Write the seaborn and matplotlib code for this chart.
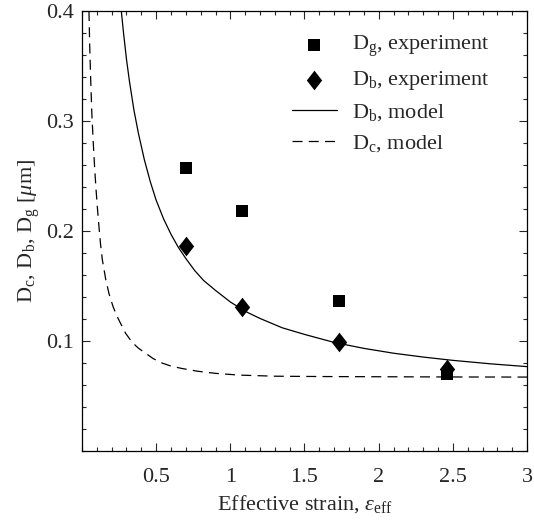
import matplotlib
matplotlib.use('Agg')
import matplotlib.pyplot as plt
import seaborn as sns
from matplotlib.ticker import MultipleLocator

# experiment points
strain_exp = [0.70, 1.08, 1.73, 2.46]
dg_exp = [0.257, 0.218, 0.136, 0.070]
db_exp = [0.186, 0.131, 0.099, 0.075]

# model curves
strain_db_model = [0.265, 0.28, 0.30, 0.32, 0.35, 0.38, 0.42, 0.46, 0.50, 0.55,
                   0.60, 0.65, 0.70, 0.76, 0.82, 0.90, 1.0, 1.1, 1.2, 1.35,
                   1.5, 1.7, 1.9, 2.1, 2.3, 2.5, 2.75, 3.0]
db_model = [0.400, 0.380, 0.356, 0.336, 0.310, 0.289, 0.265, 0.245, 0.228, 0.211,
            0.197, 0.185, 0.175, 0.164, 0.155, 0.146, 0.1355, 0.127, 0.1205, 0.112,
            0.106, 0.0987, 0.0933, 0.0889, 0.0854, 0.0824, 0.0793, 0.0767]
strain_dc_model = [0.047, 0.052, 0.058, 0.066, 0.076, 0.085, 0.094, 0.105, 0.115,
                   0.125, 0.137, 0.16, 0.182, 0.21, 0.238, 0.26, 0.294, 0.337,
                   0.38, 0.427, 0.48, 0.539, 0.60, 0.674, 0.78, 0.899, 1.06,
                   1.30, 1.6, 2.0, 2.5, 3.0]
dc_model = [0.400, 0.368, 0.340, 0.308, 0.280, 0.258, 0.239, 0.219, 0.203,
            0.188, 0.174, 0.156, 0.143, 0.131, 0.122, 0.116, 0.107, 0.099,
            0.0935, 0.089, 0.084, 0.080, 0.0772, 0.075, 0.0725, 0.0706, 0.069,
            0.068, 0.0677, 0.0675, 0.0673, 0.0672]

xticks = [0.5, 1, 1.5, 2, 2.5, 3]
xticklabels = ['0.5', '1', '1.5', '2', '2.5', '3']
yticks = [0.1, 0.2, 0.3, 0.4]
yticklabels = ['0.1', '0.2', '0.3', '0.4']

sns.set_style('ticks')
plt.rcParams['font.family'] = ['Liberation Serif', 'DejaVu Serif']
plt.rcParams['mathtext.fontset'] = 'custom'
plt.rcParams['mathtext.rm'] = 'Liberation Serif'
plt.rcParams['mathtext.it'] = 'Liberation Serif:italic'
plt.rcParams['mathtext.bf'] = 'Liberation Serif:bold'

fs = 16
fig = plt.figure(figsize=(5.34, 5.27), dpi=100)
ax = fig.add_axes([82 / 534, 76 / 527, 445 / 534, 440 / 527])

diamond = [(0, 1), (0.78, 0), (0, -1), (-0.78, 0), (0, 1)]

sns.scatterplot(x=strain_exp, y=dg_exp, marker='s', s=70, color='black',
                linewidth=0, label=r'D$_\mathrm{g}$, experiment', ax=ax, zorder=3)
sns.scatterplot(x=strain_exp, y=db_exp, marker=diamond, s=200, color='black',
                linewidth=0, label=r'D$_\mathrm{b}$, experiment', ax=ax, zorder=3)
sns.lineplot(x=strain_db_model, y=db_model, color='black', linewidth=0.9,
             sort=False, estimator=None, label=r'D$_\mathrm{b}$, model', ax=ax)
sns.lineplot(x=strain_dc_model, y=dc_model, color='black', linewidth=0.9,
             sort=False, estimator=None, label=r'D$_\mathrm{c}$, model', ax=ax)
ax.lines[-1].set_dashes((8, 5))

ax.set_xlim(0, 3)
ax.set_ylim(0, 0.4)
ax.set_xticks(xticks)
ax.set_xticklabels(xticklabels)
ax.set_yticks(yticks)
ax.set_yticklabels(yticklabels)
ax.xaxis.set_minor_locator(MultipleLocator(0.1))
ax.yaxis.set_minor_locator(MultipleLocator(0.02))
ax.tick_params(which='both', direction='in', top=True, right=True, labelsize=fs, width=0.8)
ax.tick_params(which='major', length=6)
ax.tick_params(which='minor', length=3)
ax.tick_params(axis='x', which='major', pad=12.5)
ax.tick_params(axis='y', which='major', pad=6)
for s in ax.spines.values():
    s.set_linewidth(0.9)
    s.set_color('black')

ax.set_xlabel(r'Effective strain, $\varepsilon_\mathrm{eff}$', fontsize=fs, labelpad=4)
ax.set_ylabel(r'D$_\mathrm{c}$, D$_\mathrm{b}$, D$_\mathrm{g}$ [$\mu$m]', fontsize=fs, labelpad=3)

ax.legend(loc='upper right', bbox_to_anchor=(0.935, 0.968), borderaxespad=0,
          frameon=False, fontsize=fs, handlelength=2.05, handletextpad=0.65,
          labelspacing=0.45)

fig.savefig('out.png', dpi=100)
